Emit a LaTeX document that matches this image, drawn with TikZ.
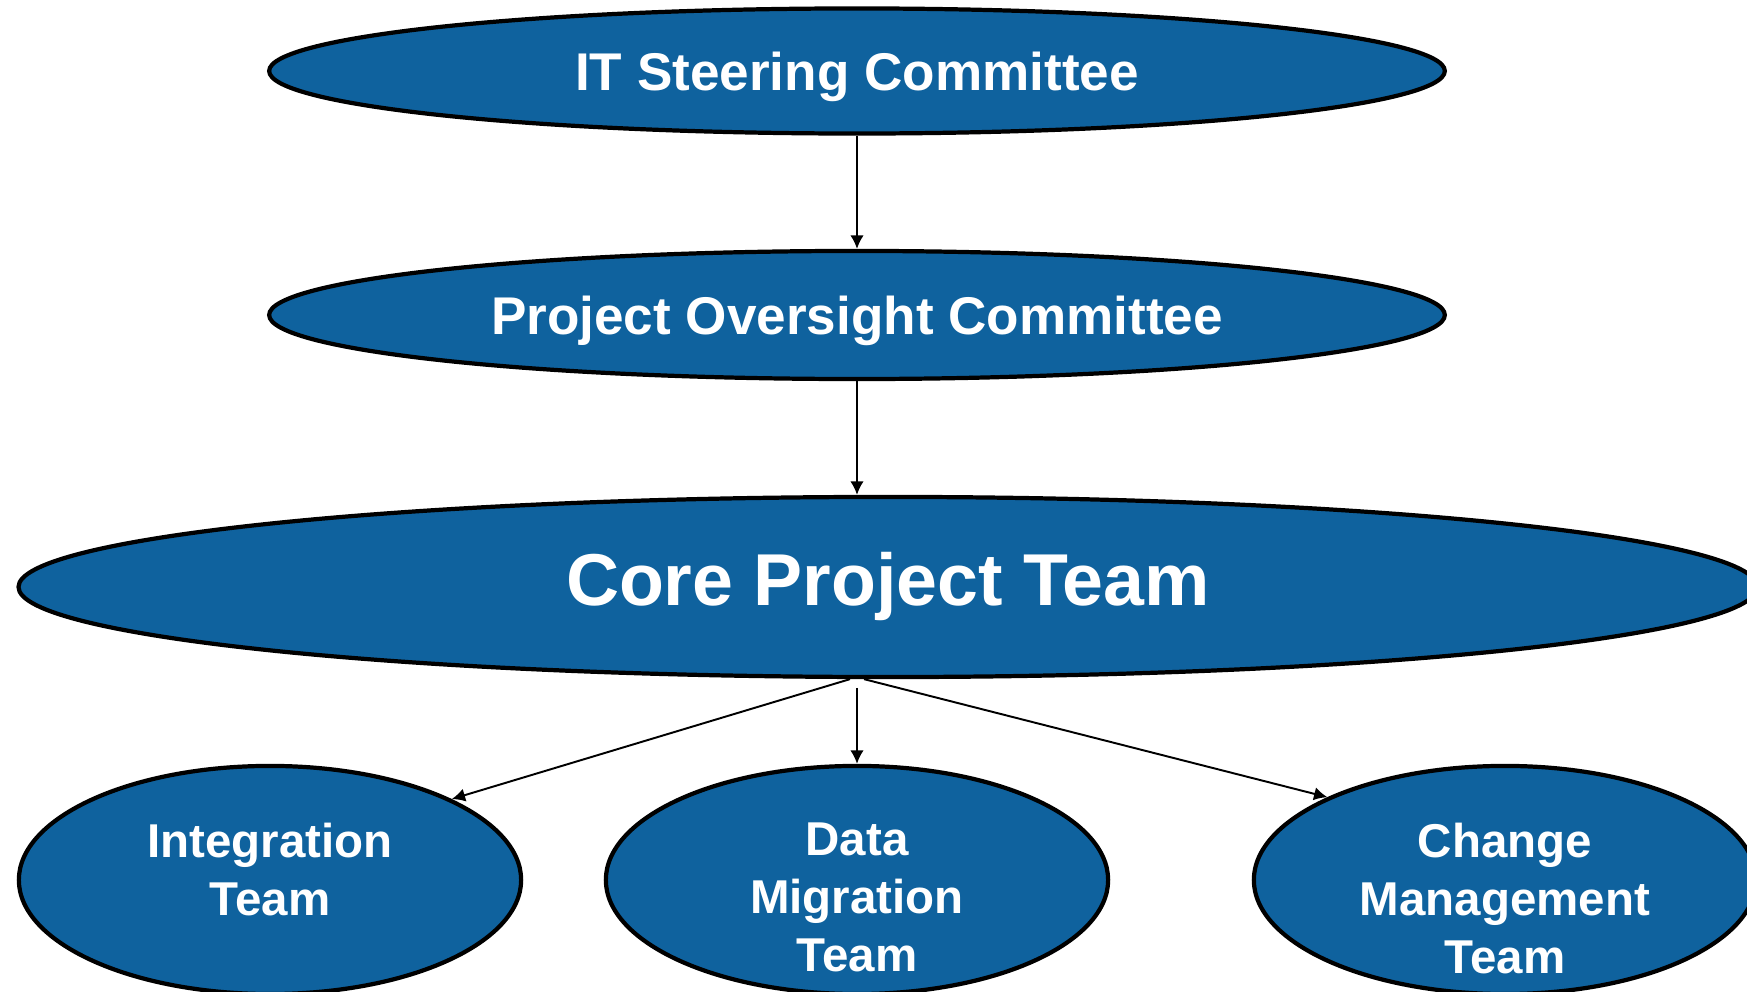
\documentclass[tikz,border=0pt]{standalone}
\usepackage{fontspec}
\setmainfont{Liberation Sans}
\usetikzlibrary{positioning, shapes, arrows, arrows.meta}
\definecolor{teamblue}{RGB}{15,98,158}

\begin{document}
\begin{tikzpicture}[x=0.01cm, y=-0.01cm]
\tikzstyle{every node}=[font=\bfseries, text=white];
\tikzstyle{board}=[draw, shape=ellipse, line width=1.2pt, fill=teamblue, inner sep=0pt];
\tikzstyle{committee}=[board, minimum width=11.75cm, text depth=0pt, font=\bfseries\fontsize{15.1}{18}\selectfont];
\tikzstyle{team}=[board, minimum width=5.02cm, minimum height=2.28cm];
\tikzstyle{teamtext}=[anchor=north, inner sep=0pt, align=center, font=\bfseries\fontsize{13.5}{16.5}\selectfont];
\tikzstyle{link}=[-{Latex[length=3.8pt, width=3.8pt]}, line width=0.55pt];
\useasboundingbox [fill=white] (0,0) rectangle (1747,992);
% committees
\path (857,71) node [committee, minimum height=1.25cm] (its) {IT Steering Committee};
\path (857,315) node [committee, minimum height=1.28cm] (poc) {Project Oversight Committee};
\path (888,587) node [board, minimum width=17.38cm, minimum height=1.80cm, font=\bfseries\fontsize{20.9}{25}\selectfont] (core) {Core Project Team};
% teams
\path (270,880) node [team] (intg) {};
\path (857,880) node [team] (dmt) {};
\path (1505,880) node [team] (chg) {};
\path (270,822) node [teamtext] (intglbl) {Integration\\Team};
\path (857,822) node [teamtext] (dmtlbl) {Data\\Migration\\Team};
\path (1505,822) node [teamtext] (chglbl) {Change\\Management\\Team};
\draw [link] (its) -- (poc);
\draw [link] (poc) -- (poc |- core.north);
\draw [link, shorten <=2.5pt] (core.south -| dmt) -- (dmt);
\draw [link] ([xshift=-2pt]core.south -| dmt) -- (intg.24);
\draw [link] ([xshift=2pt]core.south -| dmt) -- (chg.155);
\end{tikzpicture}
\end{document}
